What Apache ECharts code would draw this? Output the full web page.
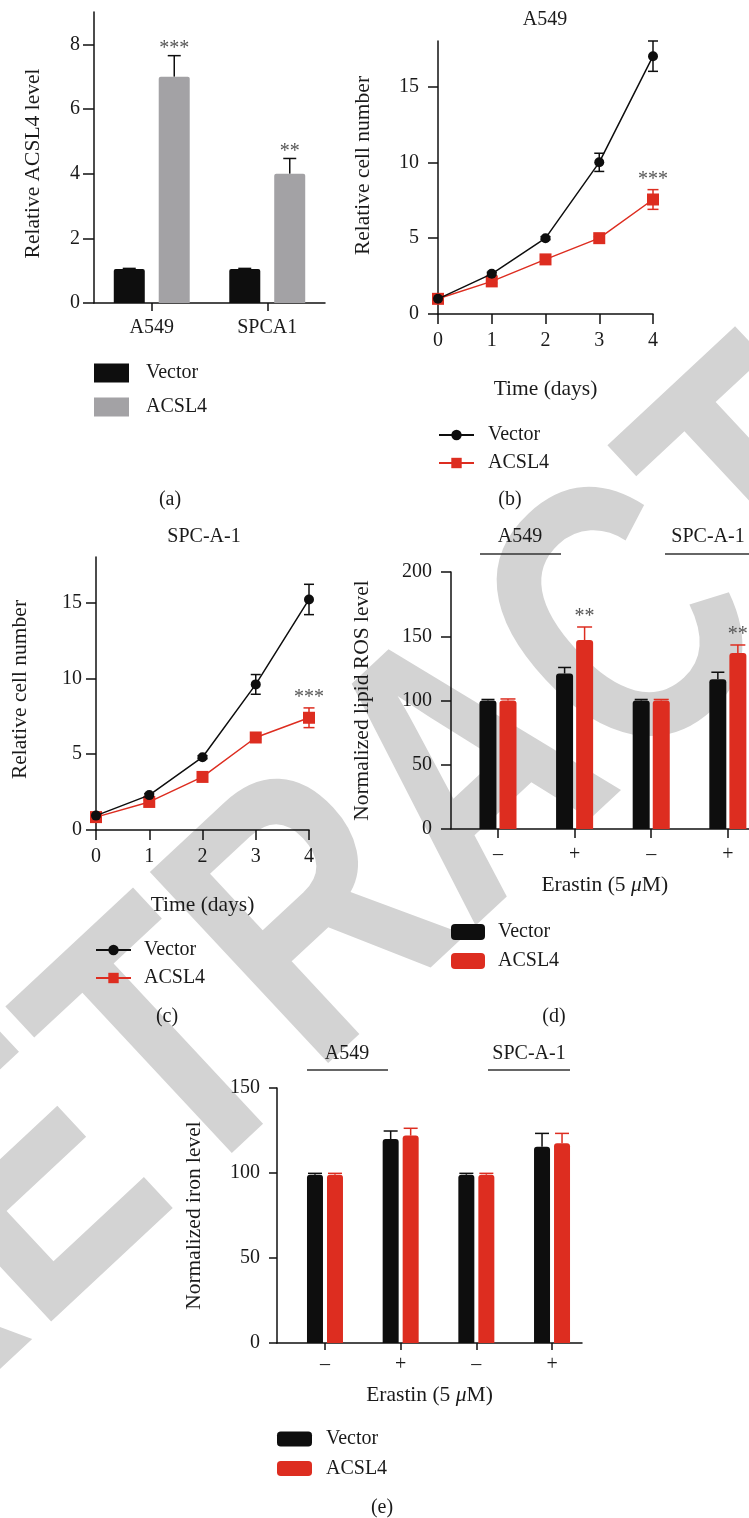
<!DOCTYPE html>
<html><head><meta charset="utf-8">
<script src="https://cdn.jsdelivr.net/npm/echarts@6/dist/echarts.min.js"></script>
<style>html,body{margin:0;padding:0;background:#fff}#c{width:749px;height:1518px}</style>
</head><body><div id="c"></div>
<script>
// ---------- data ----------
// (a)
const aCategories = ['A549', 'SPCA1'];
const aVector = [1.05, 1.05];
const aVectorErr = [0.02, 0.02];
const aAcsl4 = [7.0, 4.0];
const aAcsl4Err = [0.65, 0.47];
const aStars = ['***', '**'];
const aYTicks = [0, 2, 4, 6, 8];
// (b) A549 growth
const days = [0, 1, 2, 3, 4];
const bVector = [1.0, 2.65, 5.0, 10.0, 17.0];
const bVectorErr = [0.05, 0.1, 0.1, 0.6, 1.0];
const bAcsl4 = [1.0, 2.15, 3.6, 5.0, 7.55];
const bAcsl4Err = [0.05, 0.1, 0.1, 0.1, 0.65];
const bStars = ['', '', '', '', '***'];
const cellTicks = [0, 5, 10, 15];
// (c) SPC-A-1 growth
const cVector = [0.95, 2.3, 4.8, 9.6, 15.2];
const cVectorErr = [0.05, 0.1, 0.1, 0.65, 1.0];
const cAcsl4 = [0.85, 1.85, 3.5, 6.1, 7.4];
const cAcsl4Err = [0.05, 0.1, 0.1, 0.1, 0.65];
const cStars = ['', '', '', '', '***'];
// (d) lipid ROS
const erastin = ['\u2013', '+', '\u2013', '+'];
const erastinPos = [0, 1, 2, 3];
const dVector = [100, 121, 100, 116.5];
const dVectorErr = [0.8, 4.7, 0.8, 5.5];
const dAcsl4 = [100, 147, 100, 137];
const dAcsl4Err = [1.2, 10.2, 0.8, 6.2];
const dStars = ['', '**', '', '**'];
// (e) iron
const eVector = [99, 120, 99, 115.5];
const eVectorErr = [0.8, 4.7, 0.8, 7.8];
const eAcsl4 = [99, 122, 99, 117.5];
const eAcsl4Err = [0.8, 4.3, 0.8, 5.8];
const groupLabels = ['A549', 'SPC-A-1'];

// ---------- styles ----------
const SERIF = '"Liberation Serif", "Times New Roman", serif';
const BLACK = '#0e0e0e', GRAY = '#a3a2a5', RED = '#dd2d20', AX = '#111';
const lbl = {fontFamily: SERIF, fontSize: 20, color: '#1a1a1a'};
const nameStyle = {fontFamily: SERIF, fontSize: 21.5, color: '#1a1a1a'};
const axLine = {show: true, onZero: false, lineStyle: {color: AX, width: 1.5}};
const tick = (len, extra) => Object.assign({show: true, length: len, lineStyle: {color: AX, width: 1.5}}, extra || {});
const strip = n => '{g|}' + n.split('#')[0];

function errBars(o) {
  return {
    type: 'custom', xAxisIndex: o.gi, yAxisIndex: o.gi, z: 2, silent: true,
    data: o.xs.map((x, i) => [x, o.means[i], o.errs[i]]),
    renderItem: function (params, api) {
      const x = api.value(0), m = api.value(1), e = api.value(2);
      const pT = api.coord([x, m + e]);
      const pB = api.coord([x, o.both ? m - e : m]);
      const cx = pT[0] + o.offset, h = o.cap / 2;
      const st = {stroke: o.color, lineWidth: 1.5};
      const ch = [
        {type: 'line', shape: {x1: cx, y1: pT[1], x2: cx, y2: pB[1]}, style: st},
        {type: 'line', shape: {x1: cx - h, y1: pT[1], x2: cx + h, y2: pT[1]}, style: st}
      ];
      if (o.both) ch.push({type: 'line', shape: {x1: cx - h, y1: pB[1], x2: cx + h, y2: pB[1]}, style: st});
      const s = o.stars && o.stars[params.dataIndex];
      if (s) ch.push({type: 'text', style: {text: s, x: cx, y: pT[1] - o.starGap, align: 'center', verticalAlign: 'bottom', fill: '#555', fontSize: 20, fontFamily: SERIF}});
      return {type: 'group', children: ch};
    }
  };
}

const legendBase = (left, top, gap, iw, ih, extra, names, icon) => ({
  left: left, top: top, orient: 'vertical', padding: 0, itemGap: gap, itemWidth: iw, itemHeight: ih,
  selectedMode: false, formatter: strip,
  textStyle: Object.assign({}, lbl, {rich: {g: {width: extra}}}),
  data: names.map(n => icon ? {name: n, icon: icon} : {name: n})
});

const titleAt = (text, x, top) => ({text: text, left: x, top: top, textAlign: 'center', padding: 0,
  textStyle: {fontFamily: SERIF, fontSize: 20, fontWeight: 'normal', color: '#1a1a1a'}});

const yName = (text, gap, shift) => ({name: text, nameLocation: 'middle', nameGap: gap,
  nameTextStyle: Object.assign({padding: shift > 0 ? [0, 2 * shift, 0, 0] : [0, 0, 0, -2 * shift]}, nameStyle)});

const chart = echarts.init(document.getElementById('c'), null, {renderer: 'canvas'});
const option = {
  animation: false,
  backgroundColor: '#fff',
  grid: [
    {left: 94, top: 12, width: 231, height: 291, outerBoundsMode: 'none'},
    {left: 438, top: 41, width: 215, height: 273, outerBoundsMode: 'none'},
    {left: 96, top: 557, width: 213, height: 273, outerBoundsMode: 'none'},
    {left: 451, top: 572, width: 307.5, height: 257, outerBoundsMode: 'none'},
    {left: 277, top: 1088, width: 305, height: 255, outerBoundsMode: 'none'}
  ],
  title: [
    titleAt('A549', 545, 10),
    titleAt('SPC-A-1', 204, 527),
    titleAt(groupLabels[0], 520, 527),
    titleAt(groupLabels[1], 708, 527),
    titleAt(groupLabels[0], 347, 1044),
    titleAt(groupLabels[1], 529, 1044),
    titleAt('(a)', 170, 490),
    titleAt('(b)', 510, 490),
    titleAt('(c)', 167, 1007),
    titleAt('(d)', 554, 1007),
    titleAt('(e)', 382, 1498)
  ],
  legend: [
    legendBase(94, 363, 14, 35, 19, 12, ['Vector#a', 'ACSL4#a'], 'rect'),
    legendBase(438, 425, 8, 35, 13, 9, ['Vector#b', 'ACSL4#b']),
    legendBase(95, 940, 8, 35, 13, 8, ['Vector#c', 'ACSL4#c']),
    legendBase(451, 922, 9, 34, 16, 8, ['Vector#d', 'ACSL4#d'], 'roundRect'),
    legendBase(277, 1429, 9.5, 35, 15, 9, ['Vector#e', 'ACSL4#e'], 'roundRect')
  ],
  xAxis: [
    {type: 'category', gridIndex: 0, data: aCategories, axisLine: axLine,
     axisTick: tick(8, {alignWithLabel: true}), axisLabel: Object.assign({margin: 15}, lbl), splitLine: {show: false}},
    {type: 'value', gridIndex: 1, min: 0, max: 4, interval: 1, axisLine: axLine, axisTick: tick(10),
     axisLabel: Object.assign({margin: 17}, lbl), splitLine: {show: false},
     name: 'Time (days)', nameLocation: 'middle', nameGap: 64, nameTextStyle: nameStyle},
    {type: 'value', gridIndex: 2, min: 0, max: 4, interval: 1, axisLine: axLine, axisTick: tick(10),
     axisLabel: Object.assign({margin: 17}, lbl), splitLine: {show: false},
     name: 'Time (days)', nameLocation: 'middle', nameGap: 64, nameTextStyle: nameStyle},
    {type: 'value', gridIndex: 3, min: -0.613, max: 3.4, axisLine: axLine,
     axisTick: tick(9, {customValues: erastinPos}),
     axisLabel: Object.assign({margin: 16, customValues: erastinPos, formatter: v => erastin[Math.round(v)]}, lbl),
     splitLine: {show: false},
     name: 'Erastin (5 {i|\u03bc}M)', nameLocation: 'middle', nameGap: 45,
     nameTextStyle: Object.assign({rich: {i: {fontStyle: 'italic', fontFamily: SERIF, fontSize: 21.5, color: '#1a1a1a'}}}, nameStyle)},
    {type: 'value', gridIndex: 4, min: -0.634, max: 3.396, axisLine: axLine,
     axisTick: tick(7, {customValues: erastinPos}),
     axisLabel: Object.assign({margin: 12, customValues: erastinPos, formatter: v => erastin[Math.round(v)]}, lbl),
     splitLine: {show: false},
     name: 'Erastin (5 {i|\u03bc}M)', nameLocation: 'middle', nameGap: 41,
     nameTextStyle: Object.assign({rich: {i: {fontStyle: 'italic', fontFamily: SERIF, fontSize: 21.5, color: '#1a1a1a'}}}, nameStyle)}
  ],
  yAxis: [
    Object.assign({type: 'value', gridIndex: 0, min: 0, max: 9, axisLine: axLine, axisTick: tick(11, {customValues: aYTicks}),
     axisLabel: Object.assign({margin: 14, customValues: aYTicks}, lbl), splitLine: {show: false}},
     yName('Relative ACSL4 level', 50, 6)),
    Object.assign({type: 'value', gridIndex: 1, min: 0, max: 18, axisLine: axLine, axisTick: tick(10, {customValues: cellTicks}),
     axisLabel: Object.assign({margin: 19, customValues: cellTicks}, lbl), splitLine: {show: false}},
     yName('Relative cell number', 64, -12)),
    Object.assign({type: 'value', gridIndex: 2, min: 0, max: 18, axisLine: axLine, axisTick: tick(10, {customValues: cellTicks}),
     axisLabel: Object.assign({margin: 14, customValues: cellTicks}, lbl), splitLine: {show: false}},
     yName('Relative cell number', 65, -4)),
    Object.assign({type: 'value', gridIndex: 3, min: 0, max: 200, interval: 50, axisLine: axLine, axisTick: tick(10),
     axisLabel: Object.assign({margin: 19}, lbl), splitLine: {show: false}},
     yName('Normalized lipid ROS level', 78, 0)),
    Object.assign({type: 'value', gridIndex: 4, min: 0, max: 150, interval: 50, axisLine: axLine, axisTick: tick(8),
     axisLabel: Object.assign({margin: 17}, lbl), splitLine: {show: false}},
     yName('Normalized iron level', 72, 0))
  ],
  series: [
    // (a)
    {type: 'bar', name: 'Vector#a', xAxisIndex: 0, yAxisIndex: 0, data: aVector, barWidth: 31, barGap: '45%',
     itemStyle: {color: BLACK, borderRadius: [2, 2, 0, 0]}},
    {type: 'bar', name: 'ACSL4#a', xAxisIndex: 0, yAxisIndex: 0, data: aAcsl4, barWidth: 31, barGap: '45%',
     itemStyle: {color: GRAY, borderRadius: [2, 2, 0, 0]}},
    errBars({gi: 0, xs: [0, 1], means: aVector, errs: aVectorErr, color: BLACK, offset: -22.5, cap: 13}),
    errBars({gi: 0, xs: [0, 1], means: aAcsl4, errs: aAcsl4Err, color: BLACK, offset: 22.5, cap: 13, stars: aStars, starGap: -3}),
    // (b)
    {type: 'line', name: 'ACSL4#b', xAxisIndex: 1, yAxisIndex: 1, data: days.map((d, i) => [d, bAcsl4[i]]),
     symbol: 'rect', symbolSize: 12, lineStyle: {color: RED, width: 1.5}, itemStyle: {color: RED}, z: 3},
    {type: 'line', name: 'Vector#b', xAxisIndex: 1, yAxisIndex: 1, data: days.map((d, i) => [d, bVector[i]]),
     symbol: 'circle', symbolSize: 10, lineStyle: {color: BLACK, width: 1.5}, itemStyle: {color: BLACK}, z: 4},
    errBars({gi: 1, xs: days, means: bAcsl4, errs: bAcsl4Err, color: RED, offset: 0, cap: 11, both: true, stars: bStars, starGap: 0}),
    errBars({gi: 1, xs: days, means: bVector, errs: bVectorErr, color: BLACK, offset: 0, cap: 10, both: true}),
    // (c)
    {type: 'line', name: 'ACSL4#c', xAxisIndex: 2, yAxisIndex: 2, data: days.map((d, i) => [d, cAcsl4[i]]),
     symbol: 'rect', symbolSize: 12, lineStyle: {color: RED, width: 1.5}, itemStyle: {color: RED}, z: 3},
    {type: 'line', name: 'Vector#c', xAxisIndex: 2, yAxisIndex: 2, data: days.map((d, i) => [d, cVector[i]]),
     symbol: 'circle', symbolSize: 10, lineStyle: {color: BLACK, width: 1.5}, itemStyle: {color: BLACK}, z: 4},
    errBars({gi: 2, xs: days, means: cAcsl4, errs: cAcsl4Err, color: RED, offset: 0, cap: 11, both: true, stars: cStars, starGap: 0}),
    errBars({gi: 2, xs: days, means: cVector, errs: cVectorErr, color: BLACK, offset: 0, cap: 10, both: true}),
    // (d)
    {type: 'bar', name: 'Vector#d', xAxisIndex: 3, yAxisIndex: 3, data: erastinPos.map((x, i) => [x, dVector[i]]),
     barWidth: 17, barGap: '18%', itemStyle: {color: BLACK, borderRadius: [3, 3, 0, 0]}},
    {type: 'bar', name: 'ACSL4#d', xAxisIndex: 3, yAxisIndex: 3, data: erastinPos.map((x, i) => [x, dAcsl4[i]]),
     barWidth: 17, barGap: '18%', itemStyle: {color: RED, borderRadius: [3, 3, 0, 0]}},
    errBars({gi: 3, xs: erastinPos, means: dVector, errs: dVectorErr, color: BLACK, offset: -10, cap: 13}),
    errBars({gi: 3, xs: erastinPos, means: dAcsl4, errs: dAcsl4Err, color: RED, offset: 10, cap: 15, stars: dStars, starGap: 0}),
    // (e)
    {type: 'bar', name: 'Vector#e', xAxisIndex: 4, yAxisIndex: 4, data: erastinPos.map((x, i) => [x, eVector[i]]),
     barWidth: 16, barGap: '25%', itemStyle: {color: BLACK, borderRadius: [3, 3, 0, 0]}},
    {type: 'bar', name: 'ACSL4#e', xAxisIndex: 4, yAxisIndex: 4, data: erastinPos.map((x, i) => [x, eAcsl4[i]]),
     barWidth: 16, barGap: '25%', itemStyle: {color: RED, borderRadius: [3, 3, 0, 0]}},
    errBars({gi: 4, xs: erastinPos, means: eVector, errs: eVectorErr, color: BLACK, offset: -10, cap: 14}),
    errBars({gi: 4, xs: erastinPos, means: eAcsl4, errs: eAcsl4Err, color: RED, offset: 10, cap: 14})
  ],
  graphic: {
    elements: [
      {type: 'text', z: -10, silent: true, x: 477, y: 781, rotation: 43 * Math.PI / 180, scaleX: 0.78,
       style: {text: 'RETRACTED', fontSize: 380, fontWeight: 'bold', fontFamily: '"Liberation Sans", Arial, sans-serif',
               fill: '#d3d3d3', align: 'center', verticalAlign: 'middle'}},
      {type: 'line', silent: true, shape: {x1: 480, y1: 554, x2: 561, y2: 554}, style: {stroke: '#333', lineWidth: 1.5}},
      {type: 'line', silent: true, shape: {x1: 665, y1: 554, x2: 749, y2: 554}, style: {stroke: '#333', lineWidth: 1.5}},
      {type: 'line', silent: true, shape: {x1: 307, y1: 1070, x2: 388, y2: 1070}, style: {stroke: '#333', lineWidth: 1.5}},
      {type: 'line', silent: true, shape: {x1: 488, y1: 1070, x2: 570, y2: 1070}, style: {stroke: '#333', lineWidth: 1.5}}
    ]
  }
};
chart.setOption(option);
</script>
</body></html>
